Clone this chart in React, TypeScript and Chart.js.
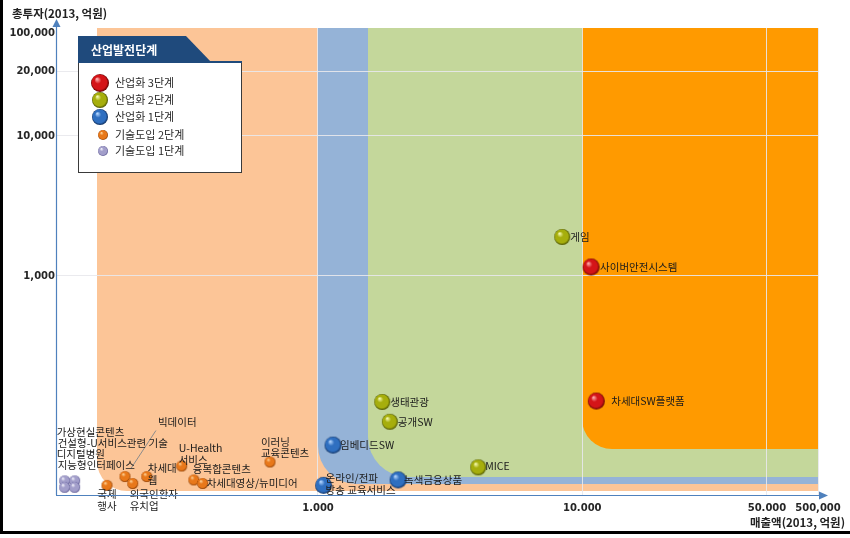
import React, { useEffect, useRef } from "react";
import { Chart, registerables } from "chart.js";

Chart.register(...registerables);

// ---------- data ----------
const legendTitle = "산업발전단계";
const xAxisTitle = "매출액(2013, 억원)";
const yAxisTitle = "총투자(2013, 억원)";

const seriesNames = ["산업화 3단계", "산업화 2단계", "산업화 1단계", "기술도입 2단계", "기술도입 1단계"];

const stage3Items = ["사이버안전시스템", "차세대SW플랫폼"];
const stage3Sales = [10800, 11300];
const stage3Invest = [1160, 128];

const stage2Items = ["게임", "생태관광", "공개SW", "MICE"];
const stage2Sales = [8400, 1750, 1870, 4040];
const stage2Invest = [1900, 126, 91, 43];

const stage1Items = ["임베디드SW", "녹색금융상품", "온라인/전파\n방송 교육서비스"];
const stage1Sales = [1140, 2010, 1050];
const stage1Invest = [62, 35, 32];

const tech2Items = ["국제\n행사", "빅데이터", "외국인환자\n유치업", "차세대\n웹", "U-Health\n서비스", "융복합콘텐츠", "차세대영상/뉴미디어", "이러닝\n교육콘텐츠"];
const tech2Sales = [159, 186, 199, 225, 305, 339, 366, 658];
const tech2Invest = [32, 37, 33, 37, 44, 35, 33, 47];

const tech1Items = ["가상현실콘텐츠", "건설형-U서비스관련 기술", "디지털병원", "지능형인터페이스"];
const tech1Sales = [110, 120, 110, 120];
const tech1Invest = [34.5, 34.5, 31, 31];

const xTickValues = [1000, 10000, 50000, 78000];
const xTickLabels = ["1.000", "10.000", "50.000", "500,000"];
const yTickValues = [1000, 10000, 29000, 54400];
const yTickLabels = ["1,000", "10,000", "20,000", "100,000"];

// stage zones: starting sales value and lower investment bound
const zoneSalesFrom = [146, 1000, 1546, 10000];
const zoneInvestFrom = [29.1, 32.7, 36.6, 58];

// ---------- styles ----------
const zoneColors = ["#FCC597", "#95B3D7", "#C4D79B", "#FF9A00"];
const zoneRadius = [30, 38, 40, 30];

type BallStyle = { light: string; base: string; dark: string; r: number; lr: number };
const ballStyles: BallStyle[] = [
  { light: "#FFB0B0", base: "#D41418", dark: "#5A0000", r: 8.5, lr: 9 },
  { light: "#F6FAB0", base: "#A6AE0C", dark: "#4A5200", r: 8, lr: 8 },
  { light: "#B4D6FF", base: "#2F6FC0", dark: "#0C2C5C", r: 8.5, lr: 8 },
  { light: "#FFD49A", base: "#E8781A", dark: "#8A3A00", r: 5.5, lr: 5 },
  { light: "#F4F4FC", base: "#A29ECA", dark: "#585490", r: 5.5, lr: 5 },
];

type Place = { dx: number; dy: number; align?: CanvasTextAlign; lh?: number; leader?: number[] };
const placements: Place[][] = [
  [{ dx: 9, dy: 0 }, { dx: 15, dy: 0 }],
  [{ dx: 8, dy: 0 }, { dx: 8, dy: 0 }, { dx: 8, dy: 0 }, { dx: 7, dy: -1 }],
  [{ dx: 7, dy: 0 }, { dx: 6, dy: 0 }, { dx: 2, dy: -7, lh: 12 }],
  [
    { dx: 0, dy: 9, align: "center", lh: 12 },
    { dx: 33, dy: -54, leader: [31, -46, 6, -8] },
    { dx: -3, dy: 11, lh: 12 },
    { dx: 1, dy: -8, lh: 12 },
    { dx: -3, dy: -18, lh: 12 },
    { dx: -1, dy: -11 },
    { dx: 4, dy: 0 },
    { dx: -9, dy: -20, lh: 11.5 },
  ],
  [{ dx: -8, dy: -49 }, { dx: -17, dy: -38 }, { dx: -8, dy: -33 }, { dx: -17, dy: -22 }],
];

const KR = '"Noto Sans CJK KR", sans-serif';

function makeBall(s: BallStyle, r: number): HTMLCanvasElement {
  const size = Math.ceil(r * 2 + 2);
  const c = document.createElement("canvas");
  c.width = size;
  c.height = size;
  const g = c.getContext("2d")!;
  const cx = size / 2, cy = size / 2;
  const grad = g.createRadialGradient(cx - r * 0.35, cy - r * 0.45, r * 0.05, cx, cy, r);
  grad.addColorStop(0, s.light);
  grad.addColorStop(0.35, s.base);
  grad.addColorStop(0.8, s.base);
  grad.addColorStop(1, s.dark);
  g.fillStyle = grad;
  g.beginPath();
  g.arc(cx, cy, r, 0, Math.PI * 2);
  g.fill();
  return c;
}

export default function App() {
  const ref = useRef<HTMLCanvasElement | null>(null);

  useEffect(() => {
    document.body.style.margin = "0";
    const canvas = ref.current!;
    const series = [
      { items: stage3Items, sales: stage3Sales, invest: stage3Invest },
      { items: stage2Items, sales: stage2Sales, invest: stage2Invest },
      { items: stage1Items, sales: stage1Sales, invest: stage1Invest },
      { items: tech2Items, sales: tech2Sales, invest: tech2Invest },
      { items: tech1Items, sales: tech1Sales, invest: tech1Invest },
    ];
    const balls = ballStyles.map((s) => makeBall(s, s.r));
    const legendBalls = ballStyles.map((s) => makeBall(s, s.lr));

    const bgPlugin = {
      id: "zones",
      beforeDraw(chart: any) {
        const ctx = chart.ctx as CanvasRenderingContext2D;
        const { top, right } = chart.chartArea;
        const xs = chart.scales.x, ys = chart.scales.y;
        ctx.save();
        ctx.fillStyle = "#ffffff";
        ctx.fillRect(0, 0, chart.width, chart.height);
        zoneSalesFrom.forEach((sx, i) => {
          const x0 = Math.round(xs.getPixelForValue(sx));
          const yb = Math.round(ys.getPixelForValue(zoneInvestFrom[i]));
          const r = zoneRadius[i];
          ctx.fillStyle = zoneColors[i];
          ctx.beginPath();
          ctx.moveTo(x0, top);
          ctx.lineTo(right, top);
          ctx.lineTo(right, yb);
          ctx.lineTo(x0 + r, yb);
          ctx.arcTo(x0, yb, x0, yb - r, r);
          ctx.closePath();
          ctx.fill();
        });
        ctx.restore();
      },
    };

    const labelPlugin = {
      id: "pointLabels",
      afterDatasetsDraw(chart: any) {
        const ctx = chart.ctx as CanvasRenderingContext2D;
        ctx.save();
        ctx.font = `10.5px ${KR}`;
        ctx.fillStyle = "#1a1a1a";
        ctx.textBaseline = "middle";
        series.forEach((s, di) => {
          const meta = chart.getDatasetMeta(di);
          meta.data.forEach((pt: any, i: number) => {
            const p = placements[di][i];
            if (p.leader) {
              ctx.strokeStyle = "#8c8c8c";
              ctx.lineWidth = 1;
              ctx.beginPath();
              ctx.moveTo(pt.x + p.leader[0], pt.y + p.leader[1]);
              ctx.lineTo(pt.x + p.leader[2], pt.y + p.leader[3]);
              ctx.stroke();
            }
            ctx.textAlign = p.align || "left";
            s.items[i].split("\n").forEach((ln, k) => {
              ctx.fillText(ln, pt.x + p.dx, pt.y + p.dy + k * (p.lh || 12));
            });
          });
        });
        ctx.restore();
      },
    };

    const overlayPlugin = {
      id: "overlay",
      afterDraw(chart: any) {
        const ctx = chart.ctx as CanvasRenderingContext2D;
        const { left, top, right, bottom } = chart.chartArea;
        ctx.save();
        // axes with arrows
        ctx.strokeStyle = "#4F81BD";
        ctx.fillStyle = "#4F81BD";
        ctx.lineWidth = 1.2;
        ctx.beginPath();
        ctx.moveTo(left + 0.5, bottom);
        ctx.lineTo(left + 0.5, top - 4);
        ctx.moveTo(left, bottom + 0.5);
        ctx.lineTo(right + 2, bottom + 0.5);
        ctx.stroke();
        ctx.beginPath();
        ctx.moveTo(left + 0.5, top - 9);
        ctx.lineTo(left - 3.5, top - 1);
        ctx.lineTo(left + 4.5, top - 1);
        ctx.closePath();
        ctx.fill();
        ctx.beginPath();
        ctx.moveTo(right + 10, bottom + 0.5);
        ctx.lineTo(right + 1, bottom - 3.5);
        ctx.lineTo(right + 1, bottom + 4.5);
        ctx.closePath();
        ctx.fill();

        // axis titles
        ctx.fillStyle = "#222";
        ctx.font = `bold 11.5px ${KR}`;
        ctx.textBaseline = "middle";
        ctx.textAlign = "left";
        ctx.fillText(yAxisTitle, 12, 14);
        ctx.textAlign = "right";
        ctx.fillText(xAxisTitle, 845, 523);

        // legend
        const bx = 78, by = 62, bw = 163, bh = 110;
        ctx.fillStyle = "#ffffff";
        ctx.fillRect(bx, by, bw, bh);
        ctx.strokeStyle = "#3a3a3a";
        ctx.lineWidth = 1;
        ctx.strokeRect(bx + 0.5, by + 0.5, bw, bh);
        ctx.fillStyle = "#1F4A7C";
        ctx.beginPath();
        ctx.moveTo(bx, 36);
        ctx.lineTo(186, 36);
        ctx.lineTo(212, by + 1);
        ctx.lineTo(bx, by + 1);
        ctx.closePath();
        ctx.fill();
        ctx.fillRect(bx, by - 1, bw + 1, 2);
        ctx.fillStyle = "#ffffff";
        ctx.font = `bold 12px ${KR}`;
        ctx.textAlign = "left";
        ctx.fillText(legendTitle, 91, 50);
        ctx.font = `11px ${KR}`;
        ctx.fillStyle = "#2a2a2a";
        const rows = [83, 100, 117, 135, 151];
        seriesNames.forEach((name, i) => {
          const img = legendBalls[i];
          const cx = i < 3 ? 100 : 103;
          ctx.drawImage(img, cx - img.width / 2, rows[i] - img.height / 2);
          ctx.fillText(name, 115, rows[i]);
        });

        // frame
        ctx.fillStyle = "#000000";
        ctx.fillRect(0, 0, 3, 534);
        ctx.fillRect(0, 531, chart.width, 3);
        ctx.restore();
      },
    };

    const gridColor = "rgba(232,232,236,0.9)";

    const chart = new Chart(canvas, {
      type: "scatter",
      data: {
        datasets: series.map((s, i) => ({
          label: seriesNames[i],
          data: s.sales.map((x, k) => ({ x, y: s.invest[k] })),
          pointStyle: balls[i] as any,
          pointRadius: ballStyles[i].r,
          showLine: false,
        })),
      },
      options: {
        responsive: false,
        animation: false,
        devicePixelRatio: 1,
        layout: { padding: { left: 0, top: 28, right: 32, bottom: 0 } },
        plugins: { legend: { display: false }, tooltip: { enabled: false }, title: { display: false } },
        scales: {
          x: {
            type: "logarithmic",
            min: 102,
            max: 78000,
            afterFit: (s: any) => {
              s.height = 43;
            },
            afterBuildTicks: (s: any) => {
              s.ticks = xTickValues.map((v) => ({ value: v }));
            },
            border: { display: false },
            grid: { color: gridColor, drawTicks: false, lineWidth: 1 },
            ticks: {
              autoSkip: false,
              maxRotation: 0,
              padding: 7,
              color: "#262626",
              font: { family: '"DejaVu Sans", sans-serif', size: 10, weight: "bold" },
              callback: (_v: any, i: number) => xTickLabels[i],
            },
          },
          y: {
            type: "logarithmic",
            min: 27.3,
            max: 59000,
            afterFit: (s: any) => {
              s.width = 56;
            },
            afterBuildTicks: (s: any) => {
              s.ticks = yTickValues.map((v) => ({ value: v }));
            },
            border: { display: false },
            grid: {
              drawTicks: false,
              color: (c: any) => (c.index === yTickValues.length - 1 ? "rgba(0,0,0,0)" : gridColor),
            },
            ticks: {
              autoSkip: false,
              padding: 1,
              color: "#262626",
              font: { family: '"DejaVu Sans", sans-serif', size: 10, weight: "bold" },
              callback: (_v: any, i: number) => yTickLabels[i],
            },
          },
        },
      } as any,
      plugins: [bgPlugin, labelPlugin, overlayPlugin],
    });
    return () => chart.destroy();
  }, []);

  return <canvas ref={ref} width={850} height={538} style={{ display: "block" }} />;
}
